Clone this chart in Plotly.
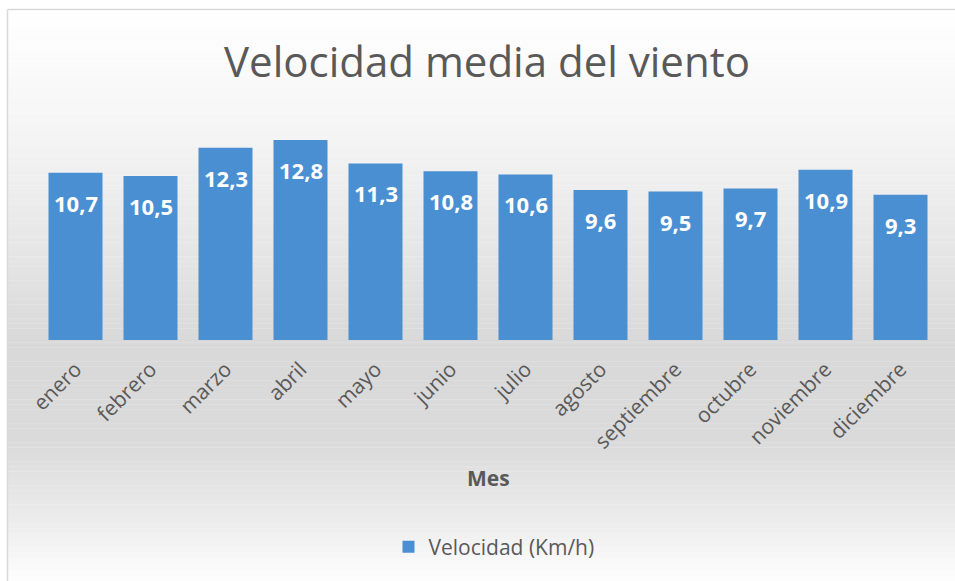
import plotly.graph_objects as go

meses = ["enero", "febrero", "marzo", "abril", "mayo", "junio", "julio",
         "agosto", "septiembre", "octubre", "noviembre", "diciembre"]
velocidad = [10.7, 10.5, 12.3, 12.8, 11.3, 10.8, 10.6, 9.6, 9.5, 9.7, 10.9, 9.3]
serie = "Velocidad (Km/h)"
titulo = "Velocidad media del viento"
eje_x = "Mes"

W, H = 955, 581
L, R, T, B = 38, 17, 100, 241
PH = H - T - B
PW = W - L - R
FONT = "Open Sans, Noto Sans, sans-serif"
GREY = "#595959"


def py(y):
    # page pixel -> paper y
    return (H - B - y) / PH


def px(x):
    return (x - L) / PW


fig = go.Figure()
fig.add_trace(go.Bar(
    x=meses, y=velocidad, name=serie,
    marker=dict(color="#4a8fd2", line=dict(width=0)),
    showlegend=True,
))

for m, v in zip(meses, velocidad):
    fig.add_annotation(
        x=m, y=v, yshift=-30, text=f"{v:.1f}".replace(".", ","),
        showarrow=False, font=dict(family=FONT, size=22, color="white", weight="bold"),
        xanchor="center", yanchor="middle",
    )

# background gradient
stops = [(9, 255), (120, 246), (250, 230), (340, 217), (440, 218), (520, 236), (581, 254)]
shapes = []
n = 120
for i in range(n):
    y0 = 9 + (581 - 9) * i / n
    y1 = 9 + (581 - 9) * (i + 1) / n
    ym = (y0 + y1) / 2
    for (a, ca), (b, cb) in zip(stops[:-1], stops[1:]):
        if a <= ym <= b:
            c = ca + (cb - ca) * (ym - a) / (b - a)
            break
    c = int(round(c))
    shapes.append(dict(type="rect", xref="paper", yref="paper",
                       x0=px(7.5), x1=px(955), y0=py(y1), y1=py(y0) + 0.001,
                       fillcolor=f"rgb({c},{c},{c})", line=dict(width=0), layer="below"))
# frame: left and top edges
shapes.append(dict(type="line", xref="paper", yref="paper",
                   x0=px(7.5), x1=px(955), y0=py(9.5), y1=py(9.5),
                   line=dict(color="#d9d9d9", width=1.5), layer="above"))
shapes.append(dict(type="line", xref="paper", yref="paper",
                   x0=px(7.5), x1=px(7.5), y0=py(9.5), y1=py(581),
                   line=dict(color="#d9d9d9", width=1.5), layer="above"))

fig.add_annotation(x=px(488), xref="paper", y=py(478), yref="paper", text=eje_x,
                   showarrow=False, xanchor="center", yanchor="middle",
                   font=dict(family=FONT, size=21, color=GREY, weight="bold"))

fig.update_layout(
    width=W, height=H,
    margin=dict(l=L, r=R, t=T, b=B, autoexpand=False),
    paper_bgcolor="white", plot_bgcolor="rgba(0,0,0,0)",
    shapes=shapes,
    bargap=0.28,
    title=dict(text=titulo, x=px(487), xanchor="center", xref="paper",
               y=1 - 62 / H, yanchor="middle",
               font=dict(family=FONT, size=42, color=GREY)),
    xaxis=dict(tickangle=-45, tickfont=dict(family=FONT, size=21, color=GREY),
               ticklabelstandoff=12,
               showgrid=False, showline=False, zeroline=False, ticks="", automargin=False),
    yaxis=dict(range=[0, PH / 15.625], visible=False, showgrid=False, automargin=False),
    legend=dict(orientation="h", x=px(494), xanchor="center", y=py(547), yanchor="middle",
                bgcolor="rgba(0,0,0,0)", font=dict(family=FONT, size=21, color=GREY),
                itemwidth=30),
    showlegend=True,
)

fig.write_html(
    "out.html",
    config={"displayModeBar": False},
    post_script="document.body.style.margin='0';"
                "document.body.style.overflow='hidden';"
                "document.documentElement.style.overflow='hidden';",
)
